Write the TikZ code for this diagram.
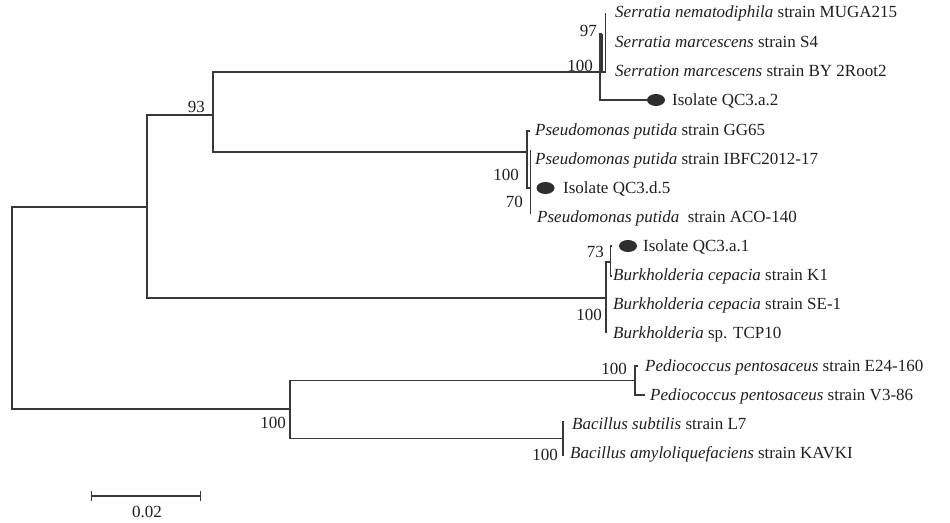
\documentclass[tikz,border=0pt]{standalone}
\usepackage{fontspec}
\setmainfont{Liberation Serif}
\usetikzlibrary{shapes.geometric,arrows.meta}
\definecolor{treegray}{HTML}{383838}
\definecolor{dotgray}{HTML}{2E2E2E}
\tikzset{
	taxon/.style={anchor=west,inner sep=0pt,text height=11.3pt,text depth=0pt,text=black!88},
	boot/.style={anchor=east,inner sep=0pt,text height=11.3pt,text depth=0pt,text=black!88},
	isodot/.style={ellipse,fill=dotgray,minimum width=18pt,minimum height=12pt,inner sep=0pt}
}
\begin{document}
\begin{tikzpicture}[x=1pt,y=-1pt,font=\fontsize{17}{20}\selectfont,
		every edge/.style={draw=treegray,line width=1.3pt,to path={|- (\tikztotarget)}}]
			\useasboundingbox (0,0) rectangle (950,522);
			
			\begin{scope}
				\coordinate (root) at (12,308);
				\coordinate (cA) at (147,207);
				\coordinate (c93) at (213,115);
				\coordinate (ser) at (600,72);
				\coordinate (ser97) at (602,34);
				\coordinate (serT) at (605.7,13);
				\coordinate (serB) at (605.7,72);
				\coordinate (isoA) at (647,100);
				\coordinate (pse) at (527,152);
				\coordinate (pseT) at (530,131);
				\coordinate (pse70) at (530.5,188);
				\coordinate (pseU) at (530.5,150);
				\coordinate (pseB) at (530.5,214);
				\coordinate (bur) at (606,298);
				\coordinate (bur73) at (610.7,262);
				\coordinate (burI) at (612,246);
				\coordinate (burK) at (612,276);
				\coordinate (burB) at (606,333);
				\coordinate (cB) at (290,409);
				\coordinate (ped) at (635,380.5);
				\coordinate (pedT) at (638,366);
				\coordinate (pedB) at (645,395);
				\coordinate (bac) at (563,438.5);
				\coordinate (bacT) at (563,421);
				\coordinate (bacB) at (563,456);
			\end{scope}
			
			\begin{scope}
				\path (root) edge (cA) edge (cB);
				\path (cA) edge (c93) edge (bur);
				\path (c93) edge (ser) edge (pse);
				\path (ser) edge (ser97) edge (isoA);
				\path (ser97) edge (serB);
				\path (serT) edge (serB);
				\path (pse) edge (pseT) edge (pse70);
				\path (pseU) edge (pseB);
				\path (bur) edge (bur73) edge (burB);
				\path (bur73) edge (burI) edge (burK);
				\path (cB) edge (ped) edge (bac);
				\path (ped) edge (pedT) edge (pedB);
				\path (bac) edge (bacT) edge (bacB);
			\end{scope}
			
			\begin{scope}[every node/.style={taxon}]
				\node (tSerN) at (615,12) {\textit{Serratia nematodiphila} strain MUGA215};
				\node (tSerM) at (615,42) {\textit{Serratia marcescens} strain S4};
				\node (tSerB) at (615,71) {\textit{Serration marcescens} strain BY 2Root2};
				\node (tIsoA) at (672,100) {Isolate QC3.a.2};
				\node (tPseG) at (535,130) {\textit{Pseudomonas putida} strain GG65};
				\node (tPseI) at (535,159) {\textit{Pseudomonas putida} strain IBFC2012-17};
				\node (tIsoD) at (563,188) {Isolate QC3.d.5};
				\node (tPseA) at (537,217) {\textit{Pseudomonas putida}\ \ strain ACO-140};
				\node (tIsoB) at (643,246) {Isolate QC3.a.1};
				\node (tBurK) at (613,275) {\textit{Burkholderia cepacia} strain K1};
				\node (tBurS) at (613,304) {\textit{Burkholderia cepacia} strain SE-1};
				\node (tBurT) at (613,333) {\textit{Burkholderia} sp. TCP10};
				\node (tPedE) at (645,366) {\textit{Pediococcus pentosaceus} strain E24-160};
				\node (tPedV) at (650,395) {\textit{Pediococcus pentosaceus} strain V3-86};
				\node (tBacS) at (572,424) {\textit{Bacillus subtilis} strain L7};
				\node (tBacA) at (570,453) {\textit{Bacillus amyloliquefaciens} strain KAVKI};
			\end{scope}
			
			\node[isodot] (dA) at (656,100) {};
			\node[isodot] (dD) at (545.5,188) {};
			\node[isodot] (dB) at (628,246) {};
			
			\begin{scope}[every node/.style={boot}]
				\node (b97) at (597,31) {97};
				\node (bSer) at (593,66) {100};
				\node (b93) at (205,107) {93};
				\node (bPse) at (519,175) {100};
				\node (b70) at (523,202) {70};
				\node (b73) at (604,252) {73};
				\node (bBur) at (602,315) {100};
				\node (bPed) at (627,369) {100};
				\node (bCB) at (286,423) {100};
				\node (bBac) at (558,455) {100};
			\end{scope}
			
			\coordinate (sL) at (91,496);
			\coordinate (sR) at (201,496);
			\draw[treegray,line width=1.3pt,{Bar[width=10pt]}-{Bar[width=10pt]}] (sL) -- (sR);
			\node[inner sep=0pt,text=black!88] (sLab) at (147,512) {0.02};
		\end{tikzpicture}
\end{document}
